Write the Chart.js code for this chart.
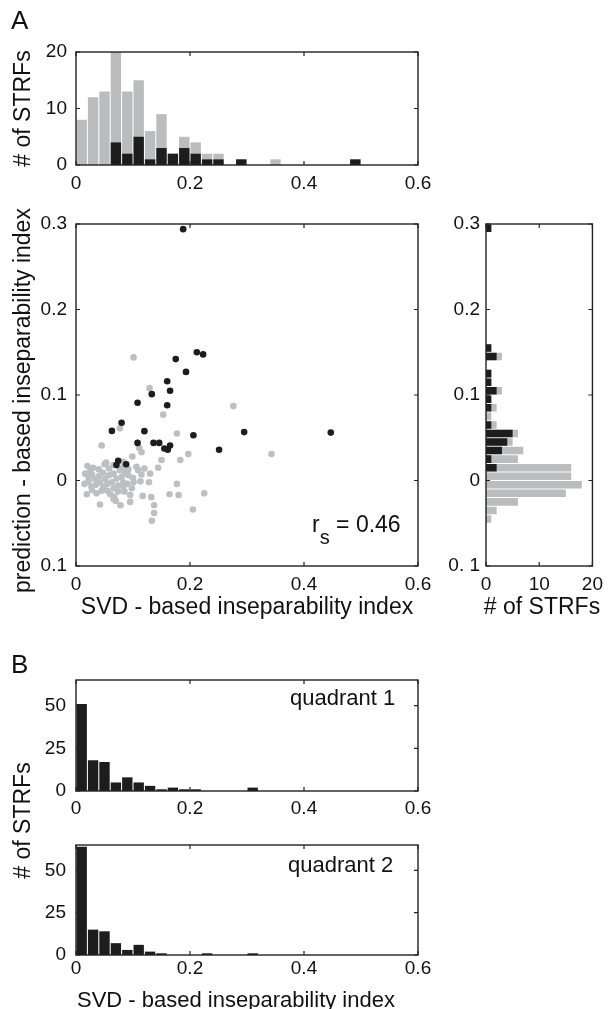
<!DOCTYPE html>
<html>
<head>
<meta charset="utf-8">
<script src="https://cdn.jsdelivr.net/npm/chart.js@4.4.1/dist/chart.umd.min.js"></script>
<style>
  html, body { margin:0; padding:0; background:#fff; }
  #wrap { position:relative; width:610px; height:1009px; overflow:hidden; font-family:'Liberation Sans', Arial, sans-serif; color:#111; }
  canvas { position:absolute; left:0; top:0; }
  .t { position:absolute; line-height:1; white-space:nowrap; }
  .rot { position:absolute; width:600px; text-align:center; line-height:1; white-space:nowrap; transform:rotate(-90deg); transform-origin:50% 50%; }
  .sub { font-size:20px; position:relative; top:12px; }
</style>
</head>
<body>
<div id="wrap">
  <canvas id="cTop" width="610" height="1009"></canvas>
  <canvas id="cSc" width="610" height="1009"></canvas>
  <canvas id="cRt" width="610" height="1009"></canvas>
  <canvas id="cQ1" width="610" height="1009"></canvas>
  <canvas id="cQ2" width="610" height="1009"></canvas>

  <div class="t" style="left:11px;top:7px;font-size:26px;">A</div>
  <div class="t" style="left:11px;top:651px;font-size:26px;">B</div>

  <div class="rot" style="left:-278px;top:97px;font-size:23px;"># of STRFs</div>
  <div class="rot" style="left:-278px;top:389px;font-size:23px;">prediction - based inseparability index</div>
  <div class="rot" style="left:-278px;top:809px;font-size:23px;"># of STRFs</div>

  <div class="t" style="left:0;width:494px;text-align:center;top:595px;font-size:23px;">SVD - based inseparability index</div>
  <div class="t" style="left:442px;width:200px;text-align:center;top:595px;font-size:23px;"># of STRFs</div>
  <div class="t" style="left:0;width:472px;text-align:center;top:989px;font-size:22px;">SVD - based inseparability index</div>

  <div class="t" style="left:312px;top:513px;font-size:23px;">r<span class="sub">s</span> = 0.46</div>
  <div class="t" style="left:290px;top:687px;font-size:22px;">quadrant 1</div>
  <div class="t" style="left:288px;top:854px;font-size:22px;">quadrant 2</div>
</div>
<script>
// ---------- data ----------
const svdBinCenters = [0.01,0.03,0.05,0.07,0.09,0.11,0.13,0.15,0.17,0.19,0.21,0.23,0.25,0.27,0.29,0.31,0.33,0.35,0.37,0.39,0.41,0.43,0.45,0.47,0.49,0.51,0.53,0.55,0.57,0.59];
const topGray  = [8,12,13,20,13,15,6,9,2,5,4,2,2,0,1,0,0,1,0,0,0,0,0,0,1,0,0,0,0,0];
const topBlack = [0,0,0,4,2,5,1,3,2,3,2,1,1,0,1,0,0,0,0,0,0,0,0,0,1,0,0,0,0,0];

const predBinCenters = [-0.095,-0.085,-0.075,-0.065,-0.055,-0.045,-0.035,-0.025,-0.015,-0.005,0.005,0.015,0.025,0.035,0.045,0.055,0.065,0.075,0.085,0.095,0.105,0.115,0.125,0.135,0.145,0.155,0.165,0.175,0.185,0.195,0.205,0.215,0.225,0.235,0.245,0.255,0.265,0.275,0.285,0.295];
const rightGray  = [0,0,0,0,0,1,2,6,15,18,16,16,6,7,5,6,2,1,2,1,3,1,1,0,3,1,0,0,0,0,0,0,0,0,0,0,0,0,0,1];
const rightBlack = [0,0,0,0,0,0,0,0,0,0,0,2,1,3,4,5,1,0,1,1,2,1,1,0,2,1,0,0,0,0,0,0,0,0,0,0,0,0,0,1];

const blackX = [0.188,0.212,0.223,0.175,0.193,0.160,0.165,0.133,0.108,0.160,0.080,0.063,0.120,0.206,0.295,0.447,0.108,0.136,0.146,0.165,0.155,0.161,0.251,0.074,0.071,0.088];
const blackY = [0.294,0.150,0.1475,0.142,0.127,0.116,0.105,0.101,0.091,0.088,0.0675,0.058,0.0577,0.053,0.0566,0.056,0.044,0.044,0.044,0.041,0.0375,0.036,0.036,0.023,0.018,0.019];

const grayX = [0.101,0.129,0.276,0.153,0.077,0.177,0.045,0.111,0.115,0.197,0.343,0.099,0.150,0.183,0.053,0.083,
  0.144,0.106,0.030,0.077,0.109,0.020,0.040,0.058,0.066,0.092,0.025,0.050,0.120,0.083,
  0.130,0.016,0.047,0.066,0.092,0.033,0.051,0.071,0.022,0.040,0.058,0.080,0.100,0.115,0.028,0.086,
  0.022,0.042,0.063,0.083,0.101,0.113,0.128,0.027,0.048,0.066,0.083,0.098,0.177,0.035,0.055,0.074,0.090,0.015,
  0.019,0.036,0.060,0.074,0.117,0.132,0.164,0.180,0.225,0.045,0.028,0.067,0.085,0.095,0.055,
  0.066,0.095,0.042,0.078,0.137,0.070,
  0.205,0.137,0.133];
const grayY = [0.144,0.108,0.087,0.077,0.061,0.055,0.041,0.038,0.033,0.031,0.031,0.028,0.024,0.024,0.021,0.022,
  0.015,0.016,0.015,0.012,0.012,0.017,0.013,0.014,0.018,0.013,0.011,0.019,0.014,0.016,
  0.008,0.008,0.009,0.008,0.006,0.002,0.002,0.002,0.004,0.005,0.006,0.004,0.003,0.007,0.007,0.009,
  -0.001,-0.002,-0.002,-0.002,-0.002,-0.001,-0.002,-0.007,-0.007,-0.009,-0.007,-0.009,-0.004,-0.005,-0.004,-0.006,-0.004,-0.004,
  -0.016,-0.015,-0.016,-0.013,-0.018,-0.0195,-0.016,-0.017,-0.015,-0.012,-0.011,-0.019,-0.013,-0.017,-0.012,
  -0.022,-0.025,-0.028,-0.029,-0.029,-0.024,
  -0.034,-0.038,-0.047];

const q1Counts = [51,18,17,5,8,5,3,1,2,1,1,0,0,0,0,2,0,0,0,0,0,0,0,0,0,0,0,0,0,0];
const q2Counts = [64,15,14,7,3,6,2,1,0,0,0,1,0,0,0,1,0,0,0,0,0,0,0,0,0,0,0,0,0,0];

const svdTicks = [0, 0.2, 0.4, 0.6];
const svdTickLabels = ['0', '0.2', '0.4', '0.6'];
const predTicks = [-0.1, 0, 0.1, 0.2, 0.3];
const predTickLabelsScatter = ['0.1', '0', '0.1', '0.2', '0.3'];
const predTickLabelsRight = ['0. 1', '0', '0.1', '0.2', '0.3'];
const topCountTicks = [0, 10, 20];
const rightCountTicks = [0, 10, 20];
const quadCountTicks = [0, 25, 50];

// ---------- styling ----------
const BLACK = '#1d1d1d';
const GRAY = '#babcbe';
const GRAY_PT = '#bebfc1';

Chart.defaults.font.family = "'Liberation Sans', Arial, sans-serif";
Chart.defaults.font.size = 19;
Chart.defaults.color = '#111';
Chart.defaults.animation = false;

const framePlugin = {
  id: 'frame',
  afterDatasetsDraw(chart) {
    const { ctx, chartArea: a, scales } = chart;
    ctx.save();
    ctx.strokeStyle = '#222';
    ctx.lineWidth = 1.4;
    ctx.strokeRect(a.left, a.top, a.right - a.left, a.bottom - a.top);
    const tl = 4;
    ctx.lineWidth = 1.2;
    ctx.beginPath();
    scales.x.ticks.forEach(t => {
      const p = scales.x.getPixelForValue(t.value);
      ctx.moveTo(p, a.bottom); ctx.lineTo(p, a.bottom - tl);
      ctx.moveTo(p, a.top); ctx.lineTo(p, a.top + tl);
    });
    scales.y.ticks.forEach(t => {
      const p = scales.y.getPixelForValue(t.value);
      ctx.moveTo(a.left, p); ctx.lineTo(a.left + tl, p);
      ctx.moveTo(a.right, p); ctx.lineTo(a.right - tl, p);
    });
    ctx.stroke();
    ctx.restore();
  }
};

function axis(min, max, tickVals, tickLabels, opts) {
  return Object.assign({
    type: 'linear', min, max, offset: false,
    grid: { display: false, drawTicks: false },
    border: { display: false },
    afterBuildTicks: s => { s.ticks = tickVals.map(v => ({ value: v })); },
    ticks: {
      autoSkip: false, maxRotation: 0,
      callback: (v, i) => tickLabels[i],
    },
  }, opts);
}
function xAxis(min, max, tv, tl, pad) {
  const a = axis(min, max, tv, tl, { position: 'bottom', afterFit: s => { s.height = 30; } });
  a.ticks.padding = pad;
  return a;
}
function yAxis(min, max, tv, tl, pad) {
  const a = axis(min, max, tv, tl, { position: 'left', afterFit: s => { s.width = 60; } });
  a.ticks.padding = pad;
  return a;
}
function pad(left, top, right, bottom) { return { left, top, right, bottom }; }

const baseOpts = {
  responsive: false,
  devicePixelRatio: 1,
  plugins: { legend: { display: false }, tooltip: { enabled: false } },
};

// ---------- top histogram ----------
new Chart(document.getElementById('cTop'), {
  type: 'bar',
  data: { datasets: [
    { data: svdBinCenters.map((x, i) => ({ x, y: topBlack[i] })), backgroundColor: BLACK, grouped: false, barPercentage: 0.91, categoryPercentage: 1, borderWidth: 0 },
    { data: svdBinCenters.map((x, i) => ({ x, y: topGray[i] })), backgroundColor: GRAY, grouped: false, barPercentage: 0.91, categoryPercentage: 1, borderWidth: 0 },
  ]},
  options: Object.assign({}, baseOpts, {
    layout: { padding: pad(16, 52, 192, 1009 - 165 - 30) },
    scales: {
      x: xAxis(0, 0.6, svdTicks, svdTickLabels, 7),
      y: yAxis(0, 20, topCountTicks, topCountTicks.map(String), 9),
    },
  }),
  plugins: [framePlugin],
});

// ---------- scatter ----------
new Chart(document.getElementById('cSc'), {
  type: 'scatter',
  data: { datasets: [
    { data: blackX.map((x, i) => ({ x, y: blackY[i] })), backgroundColor: BLACK, borderWidth: 0, pointRadius: 3.3 },
    { data: grayX.map((x, i) => ({ x, y: grayY[i] })), backgroundColor: GRAY_PT, borderWidth: 0, pointRadius: 3.3 },
  ]},
  options: Object.assign({}, baseOpts, {
    layout: { padding: pad(16, 224, 192, 1009 - 566 - 30) },
    scales: {
      x: xAxis(0, 0.6, svdTicks, svdTickLabels, 7),
      y: yAxis(-0.1, 0.3, predTicks, predTickLabelsScatter, 9),
    },
  }),
  plugins: [framePlugin],
});

// ---------- right histogram ----------
new Chart(document.getElementById('cRt'), {
  type: 'bar',
  data: { datasets: [
    { data: predBinCenters.map((y, i) => ({ x: rightBlack[i], y })), backgroundColor: BLACK, grouped: false, barPercentage: 0.88, categoryPercentage: 1, borderWidth: 0 },
    { data: predBinCenters.map((y, i) => ({ x: rightGray[i], y })), backgroundColor: GRAY, grouped: false, barPercentage: 0.88, categoryPercentage: 1, borderWidth: 0 },
  ]},
  options: Object.assign({}, baseOpts, {
    indexAxis: 'y',
    layout: { padding: pad(486 - 60, 224, 12, 1009 - 566 - 30) },
    scales: {
      x: xAxis(0, 20, rightCountTicks, rightCountTicks.map(String), 7),
      y: yAxis(-0.1, 0.3, predTicks, predTickLabelsRight, 6),
    },
  }),
  plugins: [framePlugin],
});

// ---------- quadrant histograms ----------
function quadChart(id, counts, top, bottom, xpad) {
  new Chart(document.getElementById(id), {
    type: 'bar',
    data: { datasets: [
      { data: svdBinCenters.map((x, i) => ({ x, y: counts[i] })), backgroundColor: BLACK, grouped: false, barPercentage: 0.91, categoryPercentage: 1, borderWidth: 0 },
    ]},
    options: Object.assign({}, baseOpts, {
      layout: { padding: pad(16, top, 192, 1009 - bottom - 30) },
      scales: {
        x: xAxis(0, 0.6, svdTicks, svdTickLabels, xpad),
        y: yAxis(0, 65, quadCountTicks, quadCountTicks.map(String), 10),
      },
    }),
    plugins: [framePlugin],
  });
}
quadChart('cQ1', q1Counts, 680, 791, 6);
quadChart('cQ2', q2Counts, 845, 955, 2);
</script>
</body>
</html>
